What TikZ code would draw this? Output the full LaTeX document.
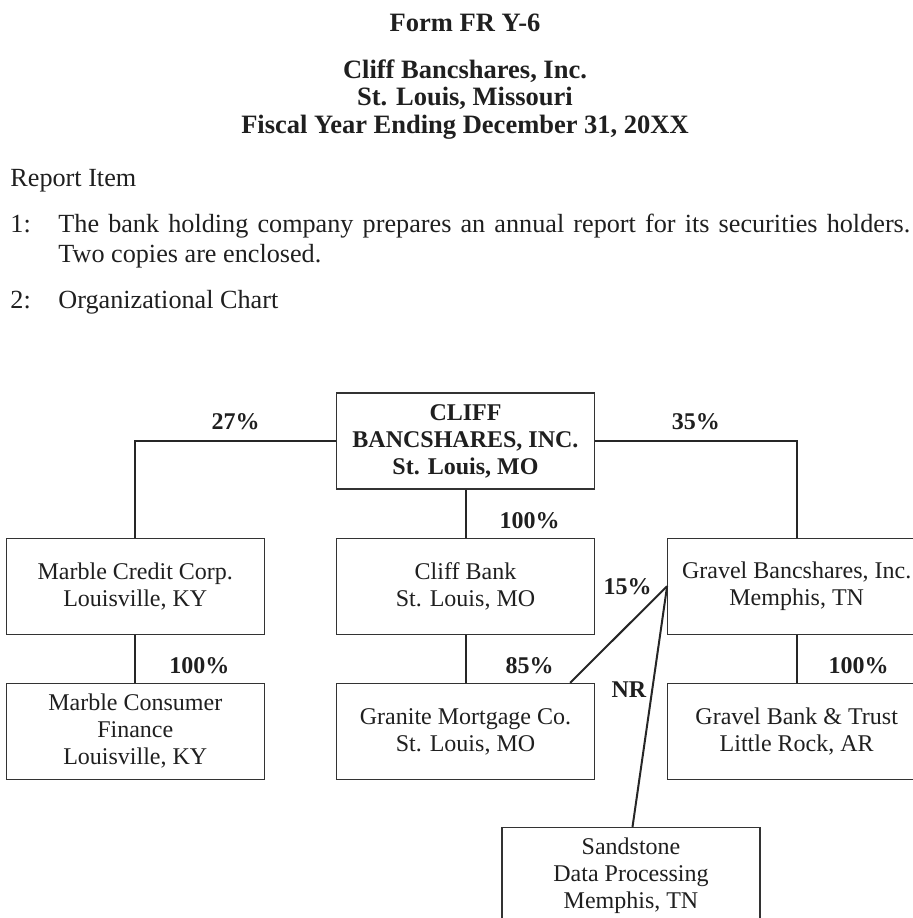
\documentclass[tikz,border=0pt]{standalone}
\usepackage{fontspec}
\setmainfont{Liberation Serif}
\usetikzlibrary{positioning}

\begin{document}
\begin{tikzpicture}[
    node distance=24pt and 36pt,
    every node/.style={text=black!88},
    entity/.style={draw=black!80, line width=0.6pt, rectangle, minimum width=129pt, minimum height=48pt, align=center, inner sep=0pt, font=\fontsize{12}{13.5}\selectfont},
    holding/.style={entity, font=\fontsize{12}{13.5}\selectfont\bfseries},
    pct/.style={inner sep=0pt, font=\fontsize{12}{13.5}\selectfont\bfseries},
    link/.style={line width=1pt, black!85},
    heading/.style={anchor=base, align=center, inner sep=0pt, font=\fontsize{13.25}{13.75}\selectfont\bfseries},
    body/.style={anchor=base west, align=left, inner sep=0pt, font=\fontsize{13.1}{15}\selectfont}
]
    \useasboundingbox (0,0) rectangle (456.5pt,-459pt);
    \clip (0,0) rectangle (456.5pt,-459pt);

    % Header (base anchor sits on the last line)
    \node[heading] (form) at (232.5pt,-15.5pt) {Form FR Y-6};
    \node[heading] (title) at (232.5pt,-66.5pt) {Cliff Bancshares, Inc.\\ St. Louis, Missouri\\ Fiscal Year Ending December 31, 20XX};

    % Report items
    \node[body] (report) at (5pt,-93pt) {Report Item};
    \node[body] (num1) at (5pt,-116pt) {1:};
    \node[body] (item1) at (29pt,-131pt) {\makebox[426pt][s]{The bank holding company prepares an annual report for its securities holders.}\\ Two copies are enclosed.};
    \node[body] (num2) at (5pt,-154pt) {2:};
    \node[body] (item2) at (29pt,-154pt) {Organizational Chart};

    % Companies
    \node[holding] (cliff) at (232.75pt,-220.5pt) {CLIFF\\ BANCSHARES, INC.\\ St. Louis, MO};
    \node[entity, below=of cliff] (bank) {Cliff Bank\\ St. Louis, MO};
    \node[entity, left=35.5pt of bank] (marble) {Marble Credit Corp.\\ Louisville, KY};
    \node[entity, right=of bank] (gravel) {Gravel Bancshares, Inc.\\ Memphis, TN};
    \node[entity, below=of marble] (consumer) {Marble Consumer\\ Finance\\ Louisville, KY};
    \node[entity, below=of bank] (granite) {Granite Mortgage Co.\\ St. Louis, MO};
    \node[entity, below=of gravel] (gbank) {Gravel Bank \& Trust\\ Little Rock, AR};
    \node[entity, below=23.5pt of granite, xshift=82.75pt] (sandstone) {Sandstone\\ Data Processing\\ Memphis, TN};

    % Ownership lines
    \draw[link] (cliff.west) -| node[pct, pos=0.25, above=5pt] {27\%} (marble.north);
    \draw[link] (cliff.east) -| node[pct, pos=0.25, above=5pt] {35\%} (gravel.north);
    \draw[link] (cliff.south) -- node[pct, xshift=32pt, yshift=-3.5pt] {100\%} (bank.north);
    \draw[link] (marble.south) -- node[pct, xshift=32pt, yshift=-3.5pt] {100\%} (consumer.north);
    \draw[link] (bank.south) -- node[pct, xshift=32pt, yshift=-3.5pt] {85\%} (granite.north);
    \draw[link] (gravel.south) -- node[pct, xshift=31pt, yshift=-3.5pt] {100\%} (gbank.north);

    \draw[link] (gravel.west) -- ([xshift=-12.5pt]granite.north east);
    \draw[link] (gravel.west) -- node[pct, pos=0.43, left=2.5pt] {NR} ([xshift=0.75pt]sandstone.north);
    \node[pct, left=7.5pt of gravel.west] (share15) {15\%};

\end{tikzpicture}
\end{document}
